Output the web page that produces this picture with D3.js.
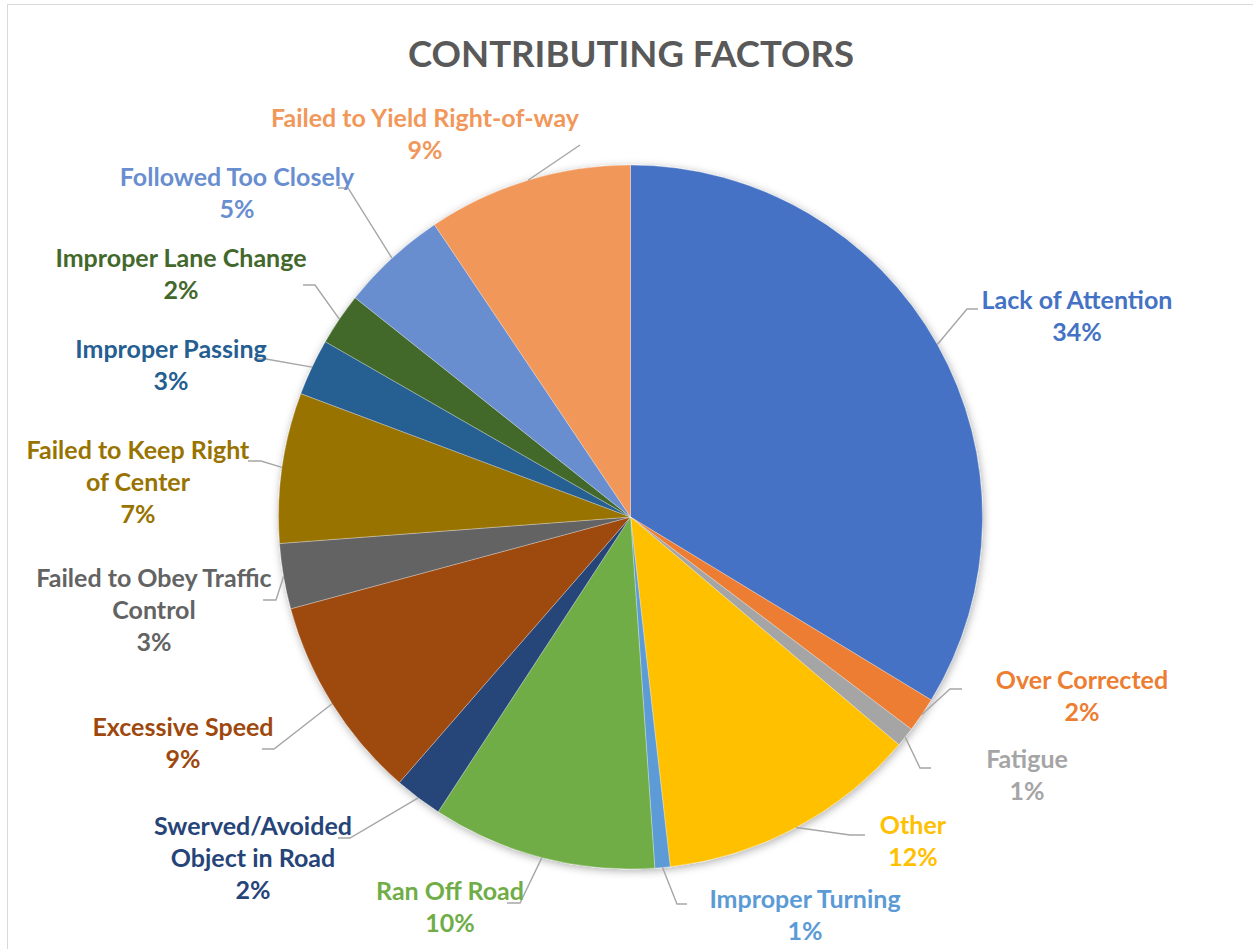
<!DOCTYPE html>
<html>
<head>
<meta charset="utf-8">
<script src="https://cdn.jsdelivr.net/npm/d3@7"></script>
<style>
  html, body { margin: 0; padding: 0; background: #fff; }
  svg { display: block; }
  text { font-family: Lato, "Open Sans", sans-serif; font-weight: bold; }
</style>
</head>
<body>
<svg id="chart" width="1253" height="949"></svg>
<script>
// Contributing factors, share of crashes (percent)
const categories = [
  "Lack of Attention", "Over Corrected", "Fatigue", "Other", "Improper Turning",
  "Ran Off Road", "Swerved/Avoided Object in Road", "Excessive Speed",
  "Failed to Obey Traffic Control", "Failed to Keep Right of Center",
  "Improper Passing", "Improper Lane Change", "Followed Too Closely",
  "Failed to Yield Right-of-way"
];
const values = [33.7, 1.6, 0.9, 12.0, 0.7, 10.3, 2.2, 9.4, 3.0, 6.9, 2.6, 2.4, 4.9, 9.4];
const colors = [
  "#4472C4", "#ED7D31", "#A5A5A5", "#FFC000", "#5B9BD5", "#70AD47", "#264478",
  "#9E480E", "#636363", "#997300", "#255E91", "#43682B", "#698ED0", "#F1975A"
];

// Label placement: text centre x, first baseline y, leader end point, elbow offset, wrap width
const labelLayout = [
  { lx: 1077, ly: 309, ex: 978, ey: 309, bend: -11, wrap: 400 },
  { lx: 1082, ly: 689, ex: 962, ey: 689, bend: -12, wrap: 400 },
  { lx: 1027, ly: 768, ex: 931, ey: 768, bend: -11, wrap: 400 },
  { lx: 913,  ly: 834, ex: 865, ey: 835, bend: -15, wrap: 400 },
  { lx: 805,  ly: 908, ex: 687, ey: 904, bend: -10, wrap: 400 },
  { lx: 450,  ly: 900, ex: 507, ey: 903, bend: 13,  wrap: 400 },
  { lx: 253,  ly: 835, ex: 338, ey: 838, bend: 12,  wrap: 225 },
  { lx: 183,  ly: 736, ex: 262, ey: 749, bend: 12,  wrap: 400 },
  { lx: 154,  ly: 587, ex: 263, ey: 600, bend: 13,  wrap: 265 },
  { lx: 138,  ly: 459, ex: 248, ey: 461, bend: 13,  wrap: 245 },
  { lx: 171,  ly: 358, ex: 255, ey: 359, bend: 11,  wrap: 400 },
  { lx: 181,  ly: 267, ex: 303, ey: 285, bend: 12,  wrap: 400 },
  { lx: 237,  ly: 186, ex: 338, ey: 188, bend: 10,  wrap: 400 },
  { lx: 425,  ly: 127, ex: 580, ey: 145, bend: 0,   wrap: 400 }
];

const width = 1253, height = 949;
const cx = 630.5, cy = 517, radius = 352;
const lineGap = 32;

const svg = d3.select("#chart");

// chart area outline
svg.append("rect")
  .attr("x", 7.5).attr("y", 4.5)
  .attr("width", 1300).attr("height", 1000)
  .attr("fill", "none").attr("stroke", "#D9D9D9").attr("stroke-width", 1);

const defs = svg.append("defs");
defs.append("filter")
  .attr("id", "pieShadow")
  .attr("x", "-10%").attr("y", "-10%").attr("width", "120%").attr("height", "120%")
  .append("feDropShadow")
  .attr("dx", 1).attr("dy", 2).attr("stdDeviation", 4.5)
  .attr("flood-color", "#000").attr("flood-opacity", 0.32);

svg.append("text")
  .attr("x", 631).attr("y", 67)
  .attr("text-anchor", "middle")
  .attr("fill", "#595959")
  .attr("font-size", 36.5)
  .text("CONTRIBUTING FACTORS");

const total = d3.sum(values);
const rows = categories.map((name, i) => ({ name, value: values[i], color: colors[i], layout: labelLayout[i] }));

const pie = d3.pie().sort(null).value(d => d.value);
const arcs = pie(rows);
const arc = d3.arc().innerRadius(0).outerRadius(radius);

const g = svg.append("g").attr("transform", `translate(${cx},${cy})`);

g.append("g")
  .attr("filter", "url(#pieShadow)")
  .selectAll("path")
  .data(arcs)
  .join("path")
  .attr("d", arc)
  .attr("fill", d => d.data.color)
  .attr("stroke", "#ffffff")
  .attr("stroke-width", 0.5)
  .attr("stroke-opacity", 0.6);

// leader lines from the rim at each slice's mid angle
const leaders = svg.append("g");
arcs.forEach(d => {
  const a = (d.startAngle + d.endAngle) / 2;
  const sx = cx + radius * Math.sin(a);
  const sy = cy - radius * Math.cos(a);
  const L = d.data.layout;
  const pts = [[sx, sy], [L.ex + L.bend, L.ey], [L.ex, L.ey]];
  leaders.append("path")
    .attr("d", d3.line()(pts))
    .attr("fill", "none")
    .attr("stroke", "#A6A6A6")
    .attr("stroke-width", 1.4);
});

// data labels: category name (wrapped) and rounded percentage
const labels = svg.append("g").attr("font-size", 25);
arcs.forEach(d => {
  const L = d.data.layout;
  const t = labels.append("text")
    .attr("text-anchor", "middle")
    .attr("fill", d.data.color);
  const words = d.data.name.split(" ");
  const lines = [];
  let cur = [];
  const probe = t.append("tspan");
  words.forEach(w => {
    const test = cur.concat(w).join(" ");
    probe.text(test);
    if (cur.length && probe.node().getComputedTextLength() > L.wrap) {
      lines.push(cur.join(" "));
      cur = [w];
    } else {
      cur.push(w);
    }
  });
  lines.push(cur.join(" "));
  probe.remove();
  lines.push(Math.round(d.data.value / total * 100) + "%");
  lines.forEach((s, i) => {
    t.append("tspan")
      .attr("x", L.lx)
      .attr("y", L.ly + i * lineGap)
      .text(s);
  });
});
</script>
</body>
</html>
